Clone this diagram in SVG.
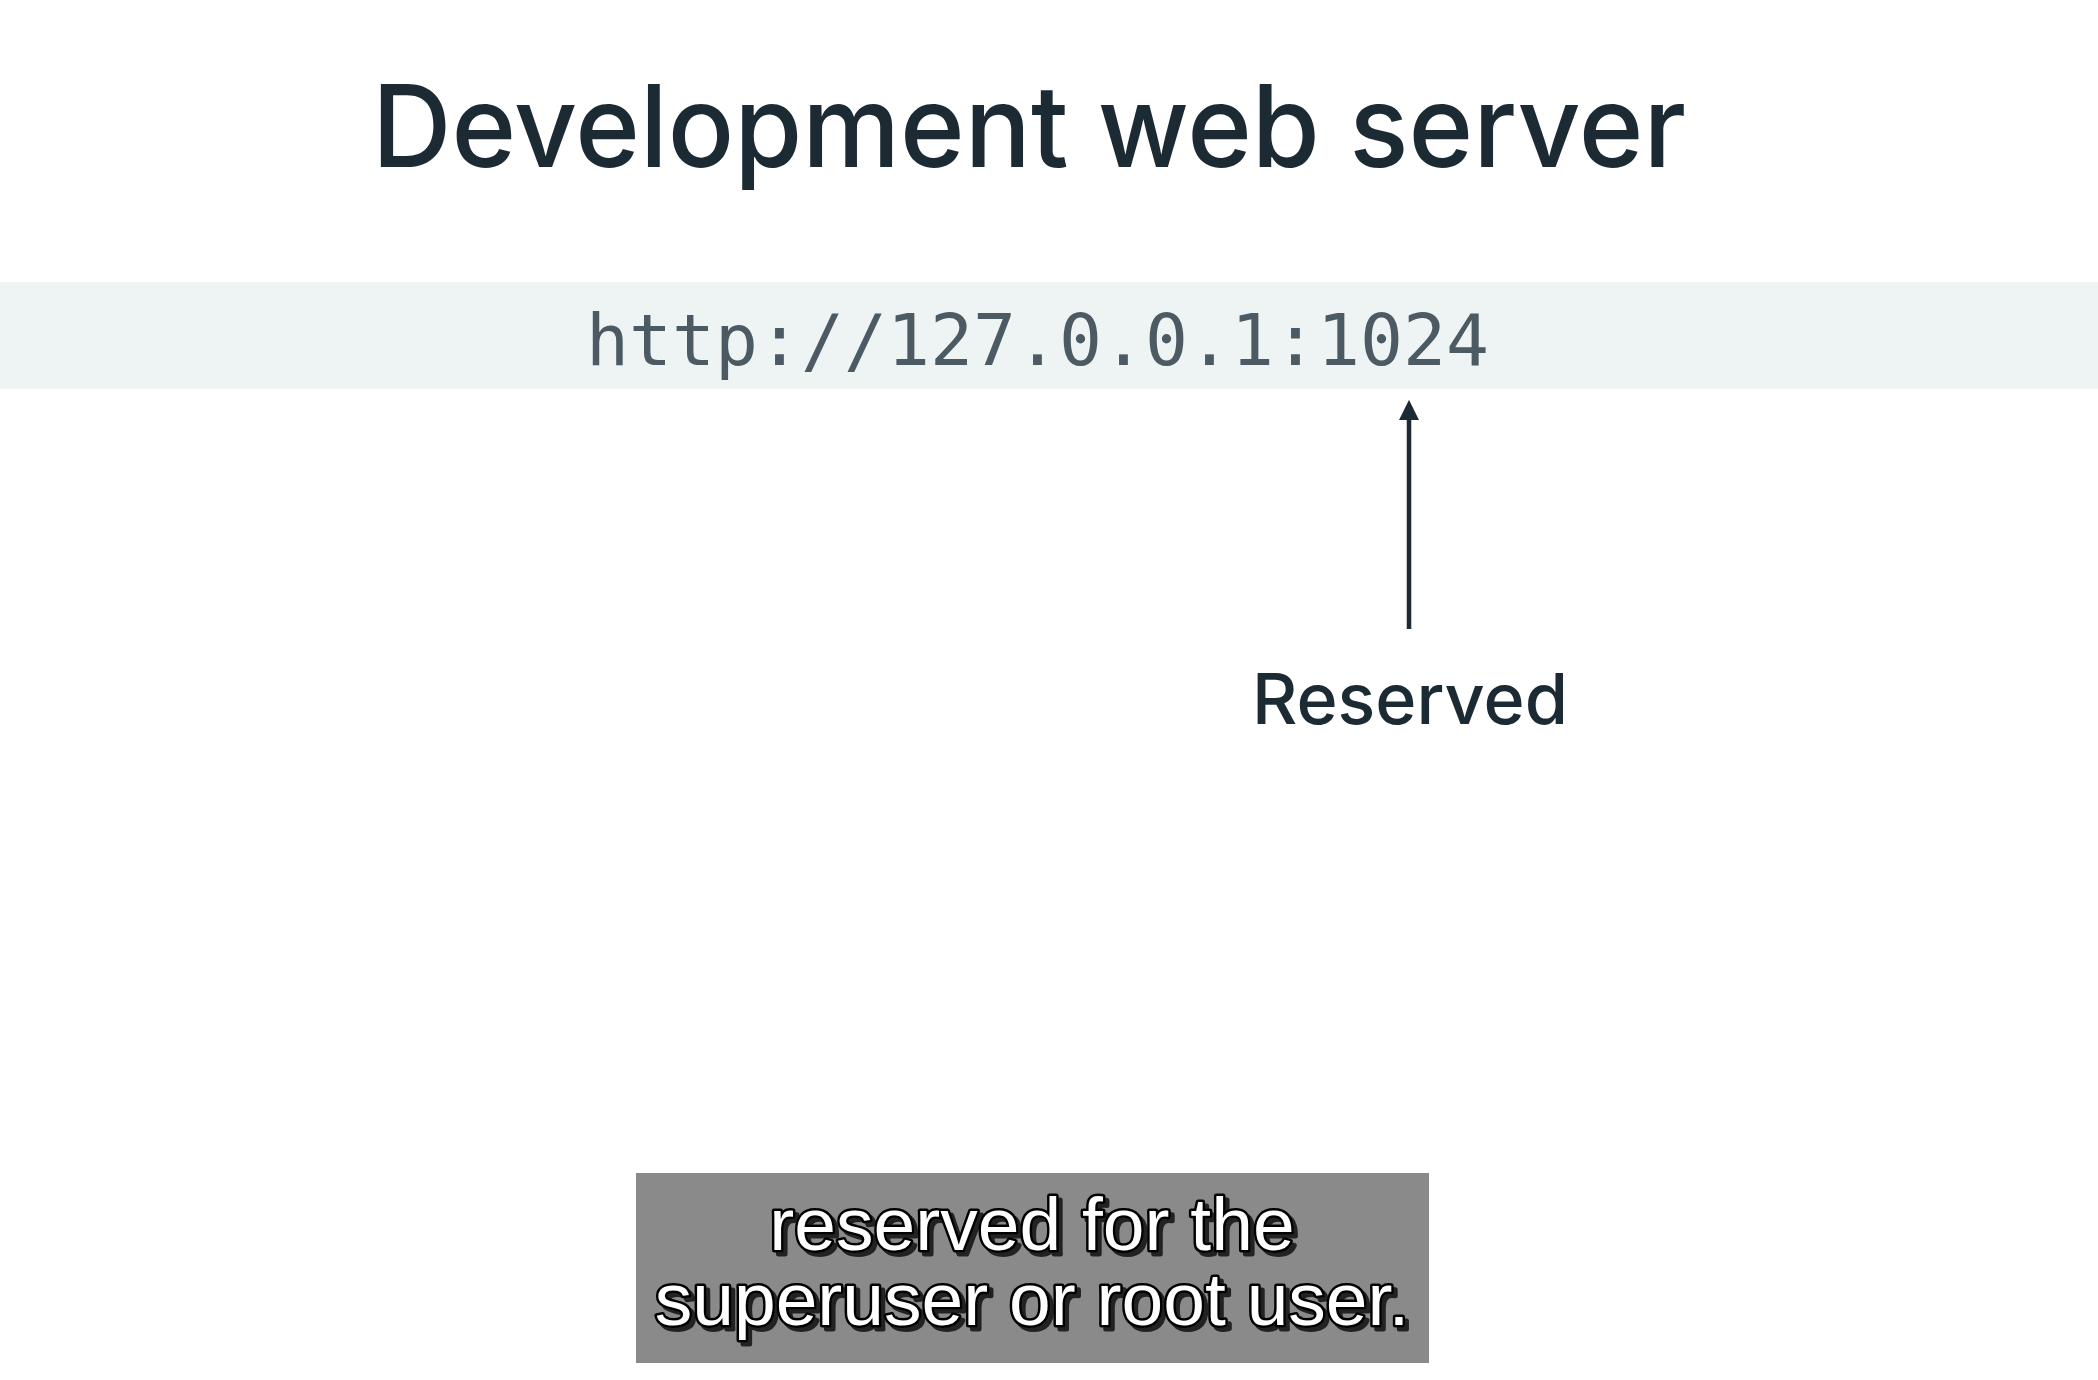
<svg xmlns="http://www.w3.org/2000/svg" width="2098" height="1380" viewBox="0 0 2098 1380">
  <defs>
    <style>
      .title { font-family: Inter, "Noto Sans", "Liberation Sans", sans-serif; font-weight: 500; fill: #1c2b33; }
      .url { font-family: "DejaVu Sans Mono", "Liberation Mono", monospace; fill: #4b5a63; }
      .label { font-family: Inter, "Noto Sans", "Liberation Sans", sans-serif; font-weight: 500; fill: #1c2b33; }
      .cap { font-family: "Liberation Sans", Arial, sans-serif; font-size: 75px; fill: #ffffff; stroke: #000000; stroke-width: 5px; stroke-linejoin: round; paint-order: stroke fill; filter: url(#capShadow); }
      .conn { stroke: #1c2b33; stroke-width: 4.5; fill: none; }
    </style>
    <filter id="capShadow" x="-10%" y="-30%" width="120%" height="160%">
      <feDropShadow dx="4" dy="4" stdDeviation="0.5" flood-color="#222222" flood-opacity="1"/>
    </filter>
    <marker id="arrowhead" viewBox="0 0 10 10" refX="5" refY="5" markerWidth="4.5" markerHeight="4.5" orient="auto-start-reverse" markerUnits="strokeWidth">
      <path d="M0,0 L10,5 L0,10 z" fill="#1c2b33"/>
    </marker>
  </defs>
  <rect x="0" y="0" width="2098" height="1380" fill="#ffffff"/>

  <g id="title">
    <text class="title" x="372" y="167" font-size="114" textLength="1314" lengthAdjust="spacingAndGlyphs">Development web server</text>
  </g>

  <g id="url-band">
    <rect x="0" y="282" width="2098" height="107" fill="#eef3f4"/>
    <text class="url" x="586" y="365" font-size="72" textLength="903" lengthAdjust="spacingAndGlyphs">http://127.0.0.1:1024</text>
  </g>

  <g id="connectors">
    <line class="conn" x1="1409" y1="629" x2="1409" y2="410" marker-end="url(#arrowhead)"/>
  </g>

  <g id="reserved">
    <text class="label" x="1252" y="724" font-size="70" textLength="316" lengthAdjust="spacingAndGlyphs">Reserved</text>
  </g>

  <g id="caption">
    <rect x="636" y="1173" width="793" height="190" fill="#8a8a8a"/>
    <text class="cap" text-anchor="middle"><tspan x="1032" y="1250">reserved for the</tspan><tspan x="1032" y="1325">superuser or root user.</tspan></text>
  </g>
</svg>
